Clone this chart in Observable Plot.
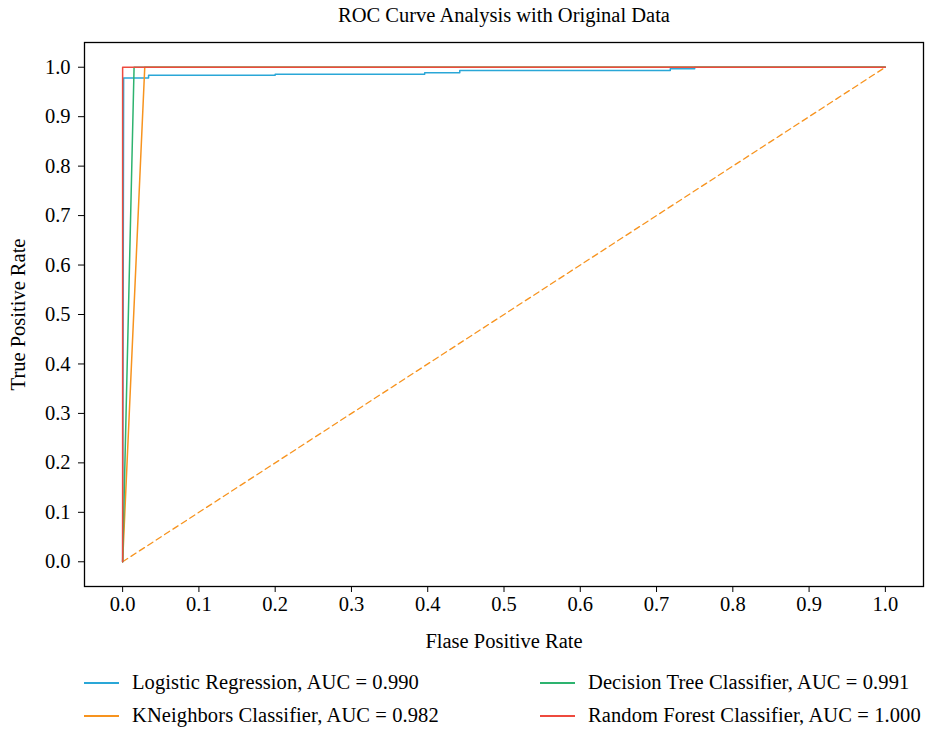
<!DOCTYPE html>
<html>
<head>
<meta charset="utf-8">
<script src="https://cdn.jsdelivr.net/npm/d3@7"></script>
<script src="https://cdn.jsdelivr.net/npm/@observablehq/plot@0.6"></script>
<style>
  html, body { margin: 0; padding: 0; background: #fff; }
  #wrap { position: relative; width: 927px; height: 730px; font-family: "Liberation Serif", serif; color: #000; }
  .leg-line { position: absolute; width: 35px; height: 2px; }
  .leg-text { position: absolute; font-size: 20.5px; line-height: 22px; white-space: nowrap; letter-spacing: 0.1px; }
</style>
</head>
<body>
<div id="wrap"></div>
<script>
const title = "ROC Curve Analysis with Original Data";
const xLabel = "Flase Positive Rate";
const yLabel = "True Positive Rate";
const ticks = [0, 0.1, 0.2, 0.3, 0.4, 0.5, 0.6, 0.7, 0.8, 0.9, 1.0];

const seriesNames = [
  "Logistic Regression, AUC = 0.990",
  "KNeighbors Classifier, AUC = 0.982",
  "Decision Tree Classifier, AUC = 0.991",
  "Random Forest Classifier, AUC = 1.000"
];
const seriesColors = ["#2aa7d7", "#f7931e", "#2db36f", "#ee4a3e"];

const lrFpr = [0, 0.0013, 0.034, 0.034, 0.200, 0.200, 0.396, 0.396, 0.442, 0.442, 0.718, 0.718, 0.750, 0.750, 1.0];
const lrTpr = [0, 0.978, 0.978, 0.984, 0.984, 0.986, 0.986, 0.989, 0.989, 0.9935, 0.9935, 0.997, 0.997, 1.0, 1.0];
const knnFpr = [0, 0.029, 1.0];
const knnTpr = [0, 1.0, 1.0];
const dtFpr = [0, 0.015, 1.0];
const dtTpr = [0, 1.0, 1.0];
const rfFpr = [0, 0, 1.0];
const rfTpr = [0, 1.0, 1.0];
const diagFpr = [0, 1];
const diagTpr = [0, 1];

const curves = [[lrFpr, lrTpr], [knnFpr, knnTpr], [dtFpr, dtTpr], [rfFpr, rfTpr]];
const rows = curves.flatMap(([fx, ty], i) => fx.map((f, j) => ({series: seriesNames[i], fpr: f, tpr: ty[j]})));
const diag = diagFpr.map((f, j) => ({fpr: f, tpr: diagTpr[j]}));

const fmt = d3.format(".1f");
const FS = 20.5;

const chart = Plot.plot({
  width: 927,
  height: 650,
  marginTop: 42,
  marginLeft: 84,
  marginRight: 4,
  marginBottom: 64,
  x: {domain: [-0.05, 1.05]},
  y: {domain: [-0.05, 1.05]},
  color: {domain: seriesNames, range: seriesColors},
  style: {fontFamily: "Liberation Serif", fontSize: FS + "px", color: "#000", background: "#fff"},
  marks: [
    Plot.frame({stroke: "#000", strokeWidth: 1.3}),
    Plot.axisX({ticks, tickFormat: fmt, tickSize: 6, tickPadding: 4, label: xLabel, labelAnchor: "center", labelArrow: "none", labelOffset: 61, fontSize: FS}),
    Plot.axisY({ticks, tickFormat: fmt, tickSize: 6, tickPadding: 8, label: yLabel, labelAnchor: "center", labelArrow: "none", labelOffset: 74, fontSize: FS}),
    Plot.line(diag, {x: "fpr", y: "tpr", stroke: seriesColors[1], strokeWidth: 1.3, strokeDasharray: "6,4"}),
    Plot.line(rows, {x: "fpr", y: "tpr", z: "series", stroke: "series", strokeWidth: 1.5, curve: "linear"}),
    Plot.text([title], {frameAnchor: "top", dy: -27, lineAnchor: "middle", fontSize: FS})
  ]
});

const wrap = document.getElementById("wrap");
wrap.appendChild(chart);

const legPos = [[84, 683], [84, 716], [540, 683], [540, 716]];
seriesNames.forEach((name, i) => {
  const [lx, ly] = legPos[i];
  const line = document.createElement("div");
  line.className = "leg-line";
  line.style.left = lx + "px";
  line.style.top = (ly - 1) + "px";
  line.style.background = seriesColors[i];
  wrap.appendChild(line);
  const t = document.createElement("div");
  t.className = "leg-text";
  t.style.left = (lx + 48) + "px";
  t.style.top = (ly - 12) + "px";
  t.textContent = name;
  wrap.appendChild(t);
});
</script>
</body>
</html>
